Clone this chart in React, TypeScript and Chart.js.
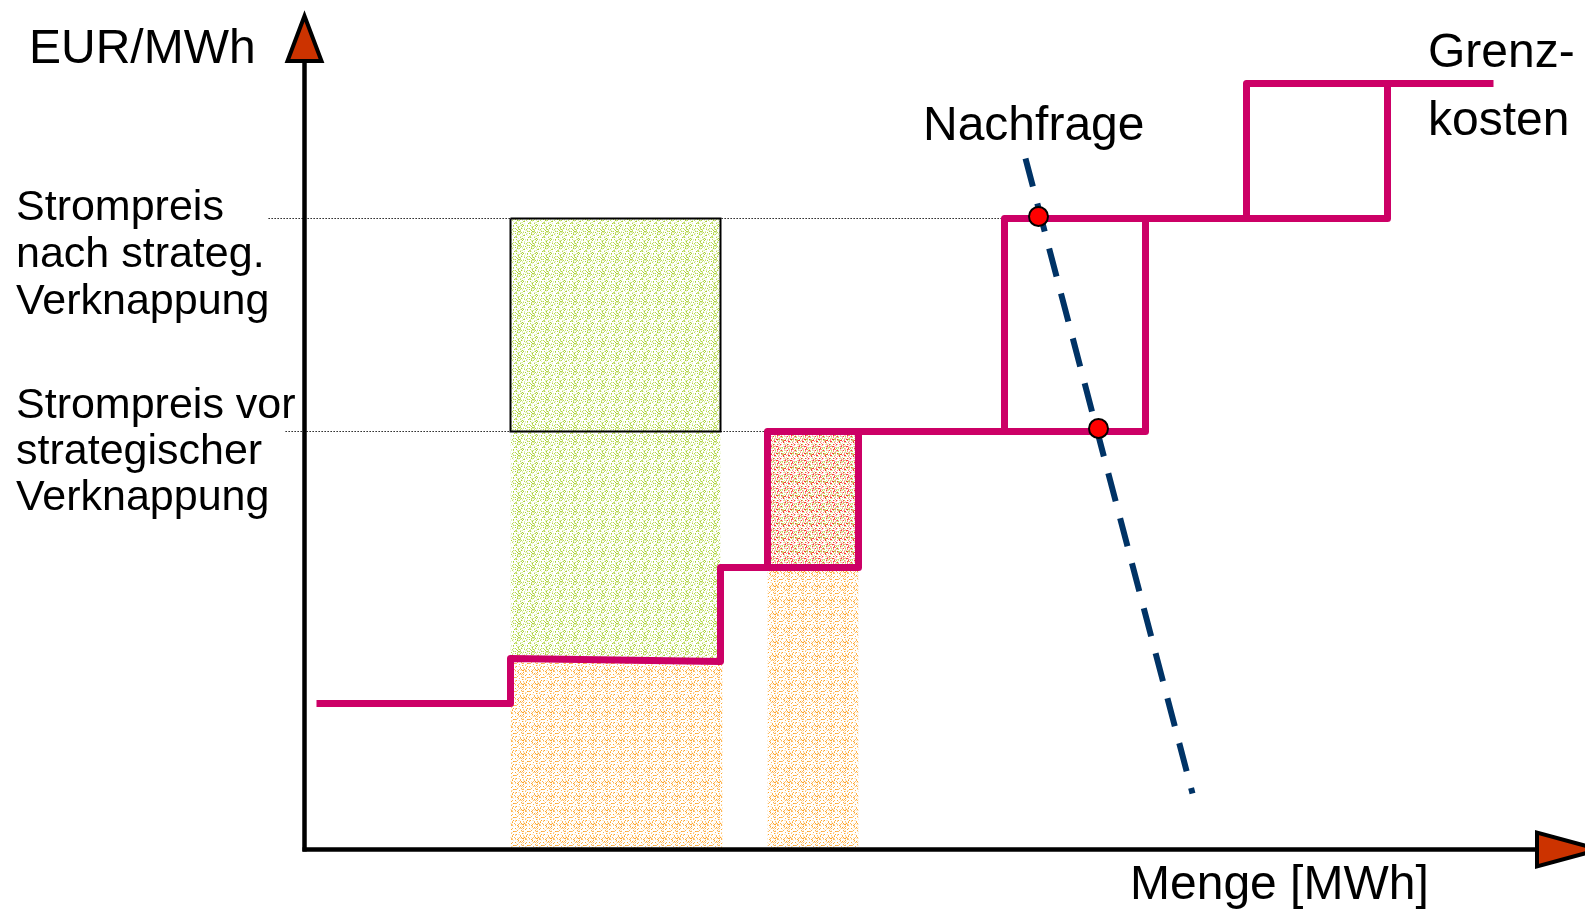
import React, { useEffect, useRef } from "react";
import { Chart, registerables } from "chart.js";

Chart.register(...registerables);

const WIDTH = 1585;
const HEIGHT = 913;

// Angebotskurve (Grenzkosten) vor der Verknappung: Menge / Preis je Stufe
const meritMenge = [1.2, 20.6, 20.6, 41.6, 41.6, 55.4, 55.4, 84.1, 84.1, 108.3, 108.3, 118.9];
const meritPreis = [14.6, 14.6, 19.1, 18.8, 28.2, 28.2, 41.8, 41.8, 63.1, 63.1, 76.6, 76.6];

// Angebotskurve nach strategischer Verknappung (nach links verschoben)
const knappMenge = [41.6, 46.3, 46.3, 70.0, 70.0, 94.2, 94.2, 108.3];
const knappPreis = [28.2, 28.2, 41.8, 41.8, 63.1, 63.1, 76.6, 76.6];

// Nachfragegerade
const nachfrageMenge = [72.1, 88.8];
const nachfragePreis = [69.1, 5.6];

// Schnittpunkte Nachfrage / Angebot
const gleichgewichtMenge = [73.4, 79.4];
const gleichgewichtPreis = [63.3, 42.1];

// Strompreise und Ausdehnung der Hilfslinien
const preisNach = 63.1;
const preisVor = 41.8;
const hilfslinieNachMenge = [-3.6, 70.0];
const hilfslinieVorMenge = [-1.9, 46.3];

// Flächen: [Menge von, Menge bis, Preis unten, Preis oben]
const zusatzerloes = [20.6, 41.6, 19.0, preisNach];
const kostenBlock1 = [20.6, 41.8, 0, 18.9];
const kostenBlock2 = [46.3, 55.4, 0, 28.2];
const zurueckgehalten = [46.3, 55.4, 28.2, preisVor];

// Achsen (Pfeilspitzen in Achseneinheiten)
const yAchseEnde = 78.85;
const yAchseSpitze = 83.35;
const xAchseEnde = 123.25;
const xAchseSpitze = 129.5;

const FONT = '"Liberation Sans", Arial, Helvetica, sans-serif';

const pairs = (xs: number[], ys: number[]) => xs.map((x, i) => ({ x, y: ys[i] }));

function grain(
  ctx: CanvasRenderingContext2D,
  palette: string[],
  density: number,
  seed: number,
  size = 14
): CanvasPattern {
  const tile = document.createElement("canvas");
  tile.width = size;
  tile.height = size;
  const g = tile.getContext("2d")!;
  let s = seed >>> 0;
  const next = () => {
    s = (Math.imul(s, 1664525) + 1013904223) >>> 0;
    return s / 4294967296;
  };
  for (let py = 0; py < size; py++) {
    for (let px = 0; px < size; px++) {
      if (next() < density) {
        g.fillStyle = palette[Math.floor(next() * palette.length)];
        g.fillRect(px, py, 1, 1);
      }
    }
  }
  return ctx.createPattern(tile, "repeat")!;
}

function area(rect: number[], fill: CanvasPattern, order: number) {
  const [x0, x1, y0, y1] = rect;
  return {
    data: [
      { x: x0, y: y1 },
      { x: x1, y: y1 },
    ],
    fill: { value: y0 },
    backgroundColor: fill,
    borderColor: "rgba(0,0,0,0)",
    borderWidth: 0,
    pointRadius: 0,
    order,
  };
}

const axesAndLabels = {
  id: "axesAndLabels",
  afterDatasetsDraw(chart: any) {
    const { ctx, scales } = chart;
    const sx = scales.x;
    const sy = scales.y;
    const ox = sx.getPixelForValue(0);
    const oy = sy.getPixelForValue(0);

    ctx.save();
    ctx.strokeStyle = "#000";
    ctx.lineWidth = 4.5;
    ctx.lineCap = "butt";

    // y-Achse
    const yEnd = sy.getPixelForValue(yAchseEnde);
    const yTip = sy.getPixelForValue(yAchseSpitze);
    ctx.beginPath();
    ctx.moveTo(ox, oy + 2);
    ctx.lineTo(ox, yEnd);
    ctx.stroke();

    // x-Achse
    const xEnd = sx.getPixelForValue(xAchseEnde);
    const xTip = sx.getPixelForValue(xAchseSpitze);
    ctx.beginPath();
    ctx.moveTo(ox - 2, oy);
    ctx.lineTo(xEnd, oy);
    ctx.stroke();

    ctx.lineWidth = 4;
    ctx.lineJoin = "miter";
    ctx.fillStyle = "#cc3300";
    // Pfeil oben
    ctx.beginPath();
    ctx.moveTo(ox, yTip);
    ctx.lineTo(ox + 17, yEnd);
    ctx.lineTo(ox - 17, yEnd);
    ctx.closePath();
    ctx.fill();
    ctx.stroke();
    // Pfeil rechts
    ctx.beginPath();
    ctx.moveTo(xTip, oy);
    ctx.lineTo(xEnd, oy - 17);
    ctx.lineTo(xEnd, oy + 17);
    ctx.closePath();
    ctx.fill();
    ctx.stroke();

    // Beschriftungen
    ctx.fillStyle = "#000";
    ctx.textAlign = "left";
    ctx.textBaseline = "alphabetic";
    ctx.font = `48px ${FONT}`;
    ctx.fillText("EUR/MWh", 29, 63);
    ctx.fillText("Menge [MWh]", 1130, 899);
    ctx.fillText("Nachfrage", 923, 140);
    ctx.fillText("Grenz-", 1428, 67);
    ctx.fillText("kosten", 1428, 135);

    ctx.font = `43px ${FONT}`;
    ["Strompreis", "nach strateg.", "Verknappung"].forEach((t, i) =>
      ctx.fillText(t, 16, 220 + i * 47)
    );
    ["Strompreis vor", "strategischer", "Verknappung"].forEach((t, i) =>
      ctx.fillText(t, 16, 418 + i * 46)
    );
    ctx.restore();
  },
};

export default function App() {
  const canvasRef = useRef<HTMLCanvasElement | null>(null);

  useEffect(() => {
    const canvas = canvasRef.current;
    if (!canvas) return;
    const ctx = canvas.getContext("2d")!;

    const gruen = grain(ctx, ["#a9d033", "#c4df6c", "#dcecaa", "#b7d94e", "#e6f2c4"], 0.4, 7);
    const orange = grain(ctx, ["#ffa628", "#ffc26a", "#ffdcaa", "#fdb452", "#ffe6c4"], 0.32, 19);
    const rotGruen = grain(ctx, ["#ff3434", "#ff8a8a", "#ffbcbc", "#bcda52", "#d8ea98"], 0.5, 31);

    const stepStyle = {
      borderColor: "#cc0066",
      borderWidth: 7,
      borderJoinStyle: "round" as const,
      pointRadius: 0,
      fill: false,
      order: 2,
    };

    const chart = new Chart(canvas, {
      type: "line",
      data: {
        datasets: [
          {
            label: "Gleichgewicht",
            data: pairs(gleichgewichtMenge, gleichgewichtPreis),
            showLine: false,
            pointRadius: 9.5,
            pointBackgroundColor: "#ff0000",
            pointBorderColor: "#000",
            pointBorderWidth: 2,
            order: 0,
          },
          {
            label: "Nachfrage",
            data: pairs(nachfrageMenge, nachfragePreis),
            borderColor: "#003366",
            borderWidth: 6,
            borderDash: [29, 17.5],
            borderCapStyle: "butt",
            pointRadius: 0,
            fill: false,
            order: 1,
          },
          { label: "Grenzkosten", data: pairs(meritMenge, meritPreis), ...stepStyle },
          { label: "Grenzkosten verknappt", data: pairs(knappMenge, knappPreis), ...stepStyle },
          {
            label: "Zusatzerlös",
            data: pairs(
              [zusatzerloes[0], zusatzerloes[1], zusatzerloes[1], zusatzerloes[0], zusatzerloes[0]],
              [preisNach, preisNach, preisVor, preisVor, preisNach]
            ),
            borderColor: "#000",
            borderWidth: 2,
            borderJoinStyle: "miter",
            pointRadius: 0,
            fill: false,
            order: 3,
          },
          {
            label: "Strompreis nach",
            data: pairs(hilfslinieNachMenge, [preisNach, preisNach]),
            borderColor: "#000",
            borderWidth: 1.2,
            borderDash: [1.3, 1.7],
            pointRadius: 0,
            fill: false,
            order: 4,
          },
          {
            label: "Strompreis vor",
            data: pairs(hilfslinieVorMenge, [preisVor, preisVor]),
            borderColor: "#000",
            borderWidth: 1.2,
            borderDash: [1.3, 1.7],
            pointRadius: 0,
            fill: false,
            order: 4,
          },
          area(zusatzerloes, gruen, 5),
          area(kostenBlock1, orange, 5),
          area(kostenBlock2, orange, 5),
          area(zurueckgehalten, rotGruen, 5),
        ] as any,
      },
      options: {
        animation: false,
        responsive: false,
        events: [],
        layout: { padding: 0, autoPadding: false },
        plugins: {
          legend: { display: false },
          tooltip: { enabled: false },
        },
        scales: {
          x: { type: "linear", min: -30.45, max: 128.05, display: false },
          y: { type: "linear", min: -6.35, max: 84.95, display: false },
        },
      },
      plugins: [axesAndLabels],
    });

    return () => chart.destroy();
  }, []);

  return (
    <div style={{ position: "fixed", left: 0, top: 0, width: WIDTH, height: HEIGHT, background: "#fff" }}>
      <canvas ref={canvasRef} width={WIDTH} height={HEIGHT} style={{ display: "block" }} />
    </div>
  );
}
